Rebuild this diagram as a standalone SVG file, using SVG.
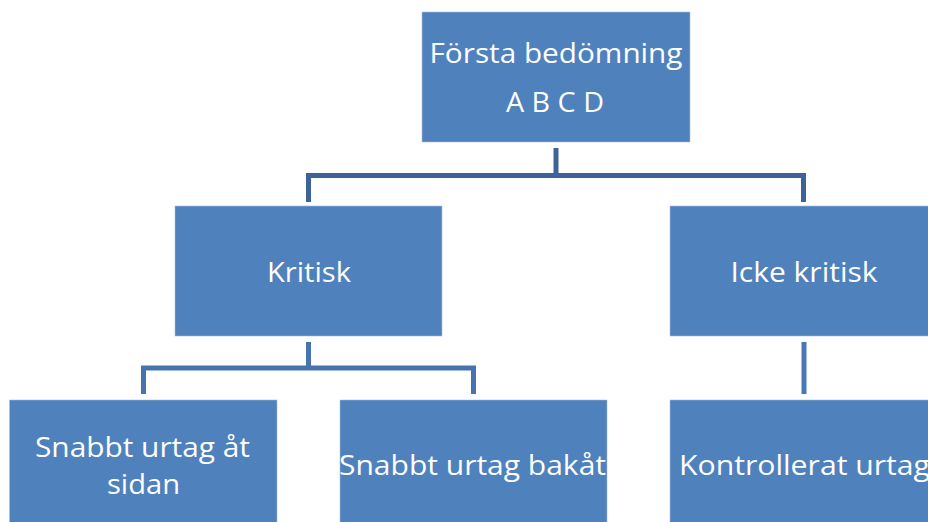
<svg xmlns="http://www.w3.org/2000/svg" width="928" height="522" viewBox="0 0 928 522">
<style>
.box{fill:#4F81BD;stroke:#A9C0DF;stroke-width:0.6}
.t{font-family:"Open Sans","Noto Sans","DejaVu Sans",sans-serif;font-size:28px;fill:#FFFFFF;text-anchor:middle}
.c{fill:none;stroke-width:5;stroke-linejoin:miter;stroke-linecap:butt}
</style>
<rect width="928" height="522" fill="#FFFFFF"/>
<g id="connectors">
<path class="c" stroke="#3D6398" d="M556,148 V175.6 M308.5,202 V175.6 H803.5 V202"/>
<path class="c" stroke="#4774AF" d="M308.5,342 V368 M143.5,394 V368 H473.5 V394"/>
<path class="c" stroke="#4A78B4" d="M804,342 V394"/>
</g>
<g id="node-forsta">
<rect class="box" x="422" y="12" width="268" height="130"/>
<text class="t" x="556" y="63" textLength="253" lengthAdjust="spacingAndGlyphs">Första bedömning</text>
<text class="t" x="555" y="112" textLength="98" lengthAdjust="spacingAndGlyphs">A B C D</text>
</g>
<g id="node-kritisk">
<rect class="box" x="175" y="206" width="267" height="130"/>
<text class="t" x="309" y="281.5" textLength="84" lengthAdjust="spacingAndGlyphs">Kritisk</text>
</g>
<g id="node-icke">
<rect class="box" x="670" y="206" width="268" height="130"/>
<text class="t" x="804" y="282" textLength="147" lengthAdjust="spacingAndGlyphs">Icke kritisk</text>
</g>
<g id="node-sidan">
<rect class="box" x="9.5" y="400" width="267.5" height="130"/>
<text class="t" x="142.5" y="457" textLength="215" lengthAdjust="spacingAndGlyphs">Snabbt urtag åt</text>
<text class="t" x="143.5" y="494" textLength="73" lengthAdjust="spacingAndGlyphs">sidan</text>
</g>
<g id="node-bakat">
<rect class="box" x="340" y="400" width="267" height="130"/>
<text class="t" x="472.5" y="475" textLength="267" lengthAdjust="spacingAndGlyphs">Snabbt urtag bakåt</text>
</g>
<g id="node-kontrollerat">
<rect class="box" x="670" y="400" width="268" height="130"/>
<text class="t" x="804.5" y="475" textLength="251" lengthAdjust="spacingAndGlyphs">Kontrollerat urtag</text>
</g>
</svg>
